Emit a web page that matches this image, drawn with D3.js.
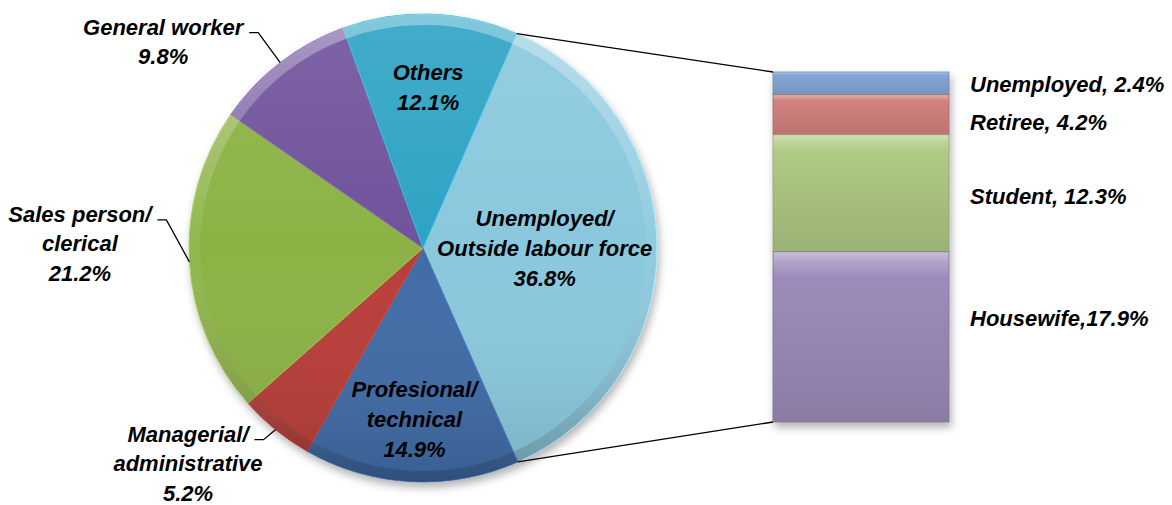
<!DOCTYPE html>
<html>
<head>
<meta charset="utf-8">
<script src="https://cdn.jsdelivr.net/npm/d3@7"></script>
<style>
  body { margin: 0; background: #fff; }
  text { font-family: "Liberation Sans", Arial, sans-serif; font-weight: bold; font-style: italic; font-size: 22px; fill: #000; }
</style>
</head>
<body>
<svg id="chart" width="1172" height="505"></svg>
<script>
// pie data (clockwise, starting at the top-right cut)
const pieLabels = [["Unemployed/", "Outside labour force"], ["Profesional/", "technical"], ["Managerial/", "administrative"],
  ["Sales person/", "clerical"], ["General worker"], ["Others"]];
const pieValues = [36.8, 14.9, 5.2, 21.2, 9.8, 12.1];
const pieColors = ["#8ac8dd", "#3f6ca7", "#b93c37", "#8cb244", "#6f529c", "#2fa3c4"];

// breakdown of the "Unemployed/Outside labour force" slice
const barLabels = ["Unemployed", "Retiree", "Student", "Housewife"];
const barSeps = [", ", ", ", ", ", ","];
const barValues = [2.4, 4.2, 12.3, 17.9];
const barColors = ["#84a6d6", "#d4827f", "#afca85", "#9d8cbb"];

let width = 1172, height = 505,
	cx = 423, cy = 248, r = 234,
	startDeg = 23.6,
	barX = 773, barW = 176;

const fmt = d3.format(".1f");
const svg = d3.select("#chart");
const defs = svg.append("defs");

let shadow = defs.append("filter").attr("id", "shadow")
	.attr("x", "-20%").attr("y", "-20%").attr("width", "140%").attr("height", "150%");
shadow.append("feDropShadow").attr("dx", 2).attr("dy", 5).attr("stdDeviation", 4)
	.attr("flood-color", "#000").attr("flood-opacity", 0.3);

// shading over the pie, in the pie group's coordinates
let sheen = defs.append("linearGradient").attr("id", "sheen")
	.attr("gradientUnits", "userSpaceOnUse").attr("x1", 0).attr("y1", -r).attr("x2", 0).attr("y2", r);
sheen.append("stop").attr("offset", 0).attr("stop-color", "#fff").attr("stop-opacity", 0.1);
sheen.append("stop").attr("offset", 0.5).attr("stop-color", "#fff").attr("stop-opacity", 0);
sheen.append("stop").attr("offset", 1).attr("stop-color", "#000").attr("stop-opacity", 0.12);

let rim = defs.append("linearGradient").attr("id", "rim")
	.attr("gradientUnits", "userSpaceOnUse").attr("x1", 0).attr("y1", -r).attr("x2", 0).attr("y2", r);
rim.append("stop").attr("offset", 0).attr("stop-color", "#fff").attr("stop-opacity", 0.35);
rim.append("stop").attr("offset", 0.5).attr("stop-color", "#fff").attr("stop-opacity", 0.05);
rim.append("stop").attr("offset", 1).attr("stop-color", "#000").attr("stop-opacity", 0.18);

const pie = d3.pie().sort(null).value(d => d)
	.startAngle(startDeg * Math.PI / 180)
	.endAngle(startDeg * Math.PI / 180 + 2 * Math.PI);
const arcs = pie(pieValues);
const arc = d3.arc().innerRadius(0).outerRadius(r);
const rimArc = d3.arc().innerRadius(r - 11).outerRadius(r);

let g = svg.append("g").attr("transform", `translate(${cx},${cy})`);
let slices = g.append("g").attr("filter", "url(#shadow)");
slices.selectAll("path.slice").data(arcs).enter().append("path")
	.attr("class", "slice")
	.attr("d", arc)
	.attr("fill", (d, i) => pieColors[i])
	.attr("stroke", (d, i) => d3.color(pieColors[i]).brighter(0.4))
	.attr("stroke-width", 1);
g.selectAll("path.sheen").data(arcs).enter().append("path")
	.attr("class", "sheen").attr("d", arc).attr("fill", "url(#sheen)");
g.selectAll("path.rim").data(arcs).enter().append("path")
	.attr("class", "rim").attr("d", rimArc).attr("fill", "url(#rim)");

// inside labels
const insideR = {0: 0.52, 1: 0.73, 5: 0.69};
const lineH = 30;
arcs.forEach((d, i) => {
	if (insideR[i] === undefined) return;
	let a = (d.startAngle + d.endAngle) / 2, lr = r * insideR[i];
	let x = lr * Math.sin(a), y = -lr * Math.cos(a);
	let lines = pieLabels[i].concat([fmt(pieValues[i]) + "%"]);
	let t = g.append("text").attr("text-anchor", "middle");
	lines.forEach((s, k) => {
		t.append("tspan").attr("x", x).attr("y", y - (lines.length - 1) * lineH / 2 + 8 + k * lineH).text(s);
	});
});

// outside labels with leader lines
const elbow = {2: [-12, 10], 3: [-23, -42], 4: [-22, -30]};
const outLineH = 29.5;
arcs.forEach((d, i) => {
	if (elbow[i] === undefined) return;
	let a = (d.startAngle + d.endAngle) / 2;
	let ex = r * Math.sin(a), ey = -r * Math.cos(a);
	let bx = ex + elbow[i][0], by = ey + elbow[i][1];
	let hx = bx - 9;
	g.append("path").attr("d", `M${ex},${ey}L${bx},${by}L${hx},${by}`)
		.attr("fill", "none").attr("stroke", "#000").attr("stroke-width", 1.3);
	let lines = pieLabels[i].concat([fmt(pieValues[i]) + "%"]);
	let t = g.append("text").attr("text-anchor", "middle");
	let first = t.append("tspan").text(lines[0]);
	let w = first.node().getComputedTextLength();
	let tx = hx - 6 - w / 2;
	first.attr("x", tx).attr("y", by + 2);
	lines.slice(1).forEach((s, k) => {
		t.append("tspan").attr("x", tx).attr("y", by + 2 + (k + 1) * outLineH).text(s);
	});
});

// stacked bar
const total = d3.sum(barValues);
const y = d3.scaleLinear().domain([0, total]).range([72, 422]);
let cum = 0;
const stack = barValues.map(v => { let s = {y0: cum, y1: cum + v}; cum += v; return s; });

barColors.forEach((c, i) => {
	let gr = defs.append("linearGradient").attr("id", "bar" + i).attr("x1", 0).attr("y1", 0).attr("x2", 0).attr("y2", 1);
	let base = d3.color(c);
	gr.append("stop").attr("offset", 0).attr("stop-color", d3.interpolateRgb(c, "#fff")(0.45));
	gr.append("stop").attr("offset", 0.06).attr("stop-color", d3.interpolateRgb(c, "#fff")(0.2));
	gr.append("stop").attr("offset", 0.15).attr("stop-color", base.formatHex());
	gr.append("stop").attr("offset", 1).attr("stop-color", base.darker(0.35).formatHex());
});

let bar = svg.append("g").attr("filter", "url(#shadow)");
bar.selectAll("rect").data(stack).enter().append("rect")
	.attr("x", barX).attr("width", barW)
	.attr("y", d => y(d.y0)).attr("height", d => y(d.y1) - y(d.y0))
	.attr("fill", (d, i) => `url(#bar${i})`)
	.attr("stroke", (d, i) => d3.color(barColors[i]).darker(0.6))
	.attr("stroke-width", 0.8);

const labelDy = [1, 7, 3, -19];
svg.selectAll("text.bl").data(stack).enter().append("text")
	.attr("class", "bl")
	.attr("x", barX + barW + 21)
	.attr("y", (d, i) => (y(d.y0) + y(d.y1)) / 2 + 8 + labelDy[i])
	.text((d, i) => barLabels[i] + barSeps[i] + fmt(barValues[i]) + "%");

// connector lines from the cut slice to the bar
let s0 = arcs[0].startAngle, s1 = arcs[0].endAngle;
svg.append("line")
	.attr("x1", cx + r * Math.sin(s0)).attr("y1", cy - r * Math.cos(s0))
	.attr("x2", barX).attr("y2", y(0))
	.attr("stroke", "#000").attr("stroke-width", 1.3);
svg.append("line")
	.attr("x1", cx + r * Math.sin(s1)).attr("y1", cy - r * Math.cos(s1))
	.attr("x2", barX).attr("y2", y(total))
	.attr("stroke", "#000").attr("stroke-width", 1.3);
</script>
</body>
</html>
